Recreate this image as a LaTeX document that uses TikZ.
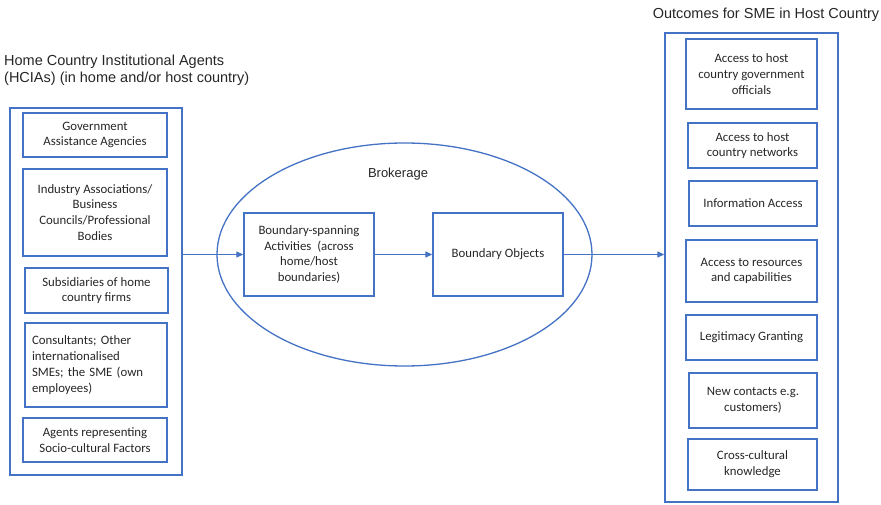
\documentclass[tikz,border=0pt]{standalone}
\usepackage{fontspec}
\setmainfont{Carlito}
\newfontfamily\titlefont{Liberation Sans}
\usetikzlibrary{arrows.meta,shapes.geometric}
\definecolor{bblue}{HTML}{4472C4}
\definecolor{txt}{HTML}{262626}
\tikzset{
  bx/.style={draw=bblue, line width=1.3pt, rectangle, inner sep=0pt, align=center, text=txt,
    font=\fontsize{12.8}{15.8}\selectfont},
  outer/.style={draw=bblue, line width=1.3pt, rectangle, inner sep=0pt},
  ttl/.style={text=txt, font=\titlefont\fontsize{14.5}{16}\selectfont, inner sep=0pt},
  arr/.style={draw=bblue, line width=1.1pt, -{Triangle[length=7pt,width=6pt]}},
}
\begin{document}
\begin{tikzpicture}[x=1pt,y=-1pt]
\useasboundingbox (0,0) rectangle (881,505);
% left group
\node[ttl, anchor=west, align=left] (lt1) at (4,62) {Home Country Institutional Agents};
\node[ttl, anchor=west, align=left] (lt2) at (4,79) {(HCIAs) (in home and/or host country)};
\node[outer, minimum width=172pt, minimum height=367pt] (left) at (96,291.5) {};
\node[bx, minimum width=144pt, minimum height=44pt] (g1) at (95,135) {Government\\Assistance Agencies};
\node[bx, minimum width=144pt, minimum height=87pt] (g2) at (95,212.5) {Industry Associations/\\Business\\Councils/Professional\\Bodies};
\node[bx, minimum width=143pt, minimum height=45pt] (g3) at (96.5,290.5) {Subsidiaries of home\\country firms};
\node[bx, minimum width=142pt, minimum height=84pt, text width=128pt, align=left] (g4) at (96,365) {Consultants; Other\\internationalised\\SMEs; the SME (own\\employees)};
\node[bx, minimum width=144pt, minimum height=44pt] (g5) at (95,440) {Agents representing\\Socio-cultural Factors};
% brokerage
\node[draw=bblue, line width=1.3pt, ellipse, minimum width=375pt, minimum height=223pt, inner sep=0pt] (ell) at (404.5,254.5) {};
\node[ttl, font=\titlefont\fontsize{13}{15}\selectfont] (brk) at (398,174) {Brokerage};
\node[bx, minimum width=130pt, minimum height=83pt] (bs) at (309,254.5) {Boundary-spanning\\Activities\ \ (across\\home/host\\boundaries)};
\node[bx, minimum width=130pt, minimum height=83pt] (bo) at (498,254.5) {Boundary Objects};
% right group
\node[ttl] (rt) at (766,15) {Outcomes for SME in Host Country};
\node[outer, minimum width=173pt, minimum height=469pt] (right) at (751.5,267.5) {};
\node[bx, minimum width=131pt, minimum height=70pt] (o1) at (751.5,74) {Access to host\\country government\\officials};
\node[bx, minimum width=129pt, minimum height=45pt] (o2) at (752.5,145.5) {Access to host\\country networks};
\node[bx, minimum width=128pt, minimum height=45pt] (o3) at (753,203.5) {Information Access};
\node[bx, minimum width=131pt, minimum height=62pt] (o4) at (751.5,271) {Access to resources\\and capabilities};
\node[bx, minimum width=131pt, minimum height=45pt] (o5) at (751.5,337.5) {Legitimacy Granting};
\node[bx, minimum width=128pt, minimum height=55pt] (o6) at (753,400.5) {New contacts e.g.\\customers)};
\node[bx, minimum width=129pt, minimum height=51pt] (o7) at (752.5,464.5) {Cross-cultural\\knowledge};
% arrows
\draw[arr] (bs.west -| left.east) -- (bs.west);
\draw[arr] (bs.east) -- (bo.west);
\draw[arr] (bo.east) -- (bo.east -| right.west);
\end{tikzpicture}
\end{document}
